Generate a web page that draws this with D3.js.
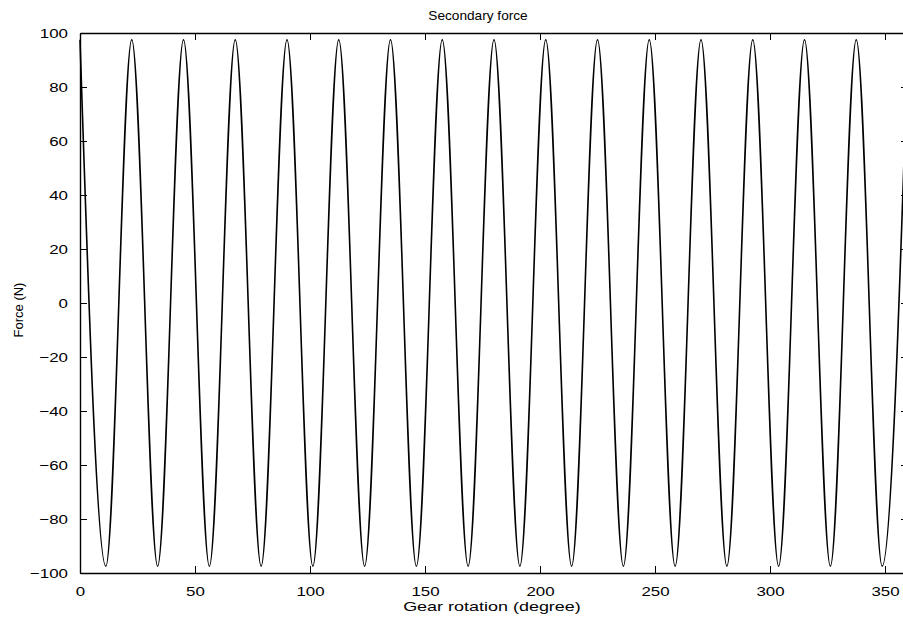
<!DOCTYPE html>
<html>
<head>
<meta charset="utf-8">
<script src="https://cdn.jsdelivr.net/npm/d3@7"></script>
<style>
  body { margin: 0; background: #fff; }
  svg { display: block; font-family: "Liberation Sans", Arial, sans-serif; }
</style>
</head>
<body>
<svg id="chart" width="903" height="619"></svg>
<script>
// peaks and troughs of the force curve (degrees, N)
const extremaAngle = [0, 11.25, 22.5, 33.75, 45, 56.25, 67.5, 78.75, 90, 101.25, 112.5, 123.75,
  135, 146.25, 157.5, 168.75, 180, 191.25, 202.5, 213.75, 225, 236.25, 247.5, 258.75,
  270, 281.25, 292.5, 303.75, 315, 326.25, 337.5, 348.75, 360]
const extremaForce = [97.5, -97.5, 97.5, -97.5, 97.5, -97.5, 97.5, -97.5, 97.5, -97.5, 97.5, -97.5,
  97.5, -97.5, 97.5, -97.5, 97.5, -97.5, 97.5, -97.5, 97.5, -97.5, 97.5, -97.5,
  97.5, -97.5, 97.5, -97.5, 97.5, -97.5, 97.5, -97.5, 97.5]

const xTicks = [0, 50, 100, 150, 200, 250, 300, 350]
const yTicks = [-100, -80, -60, -40, -20, 0, 20, 40, 60, 80, 100]

const data = extremaAngle.map((a, i) => ({ angle: a, force: extremaForce[i] }))

var margin = {top: 33, left: 80},
  width = 828,
  height = 540

var svg = d3.select("#chart")
var g = svg.append("g")
  .attr("transform", "translate(" + margin.left + "," + margin.top + ")")

var x = d3.scaleLinear().domain([0, 360]).range([0, width])
var y = d3.scaleLinear().domain([-100, 100]).range([height, 0])

// scanned text is wider than the plain font, stretch it a bit
function stretch(sel, k) {
  sel.each(function() {
    var w = this.getComputedTextLength()
    d3.select(this).attr("textLength", w * k).attr("lengthAdjust", "spacingAndGlyphs")
  })
}

// curve
var line = d3.line()
  .x(d => x(d.angle))
  .y(d => y(d.force))
  .curve(d3.curveMonotoneX)

g.append("path")
  .datum(data)
  .attr("fill", "none")
  .attr("stroke", "#000")
  .attr("stroke-width", 1.6)
  .attr("d", line)

// axes, inward ticks on all sides
var xAxis = g.append("g")
  .attr("transform", "translate(0," + height + ")")
  .call(d3.axisBottom(x).tickValues(xTicks).tickSizeInner(-7).tickSizeOuter(0).tickPadding(13))
var yAxis = g.append("g")
  .call(d3.axisLeft(y).tickValues(yTicks).tickSizeInner(-7).tickSizeOuter(0).tickPadding(12))
g.append("g")
  .call(d3.axisTop(x).tickValues(xTicks).tickSizeInner(-7).tickSizeOuter(0).tickFormat(""))
g.append("g")
  .attr("transform", "translate(" + width + ",0)")
  .call(d3.axisRight(y).tickValues(yTicks).tickSizeInner(-7).tickSizeOuter(0).tickFormat(""))

g.selectAll(".domain").attr("stroke", "#000").attr("stroke-width", 1.4)
g.selectAll(".tick line").attr("stroke", "#000").attr("stroke-width", 1)

xAxis.selectAll("text").attr("font-size", 13.5).attr("fill", "#000")
  .attr("font-family", "Liberation Sans, Arial, sans-serif").call(stretch, 1.25)
yAxis.selectAll("text").attr("font-size", 13.5).attr("fill", "#000")
  .attr("font-family", "Liberation Sans, Arial, sans-serif").call(stretch, 1.25)

// labels
svg.append("text")
  .attr("x", 478).attr("y", 20)
  .attr("text-anchor", "middle")
  .attr("font-size", 13)
  .text("Secondary force")
  .call(stretch, 1.05)

svg.append("text")
  .attr("x", 492).attr("y", 611)
  .attr("text-anchor", "middle")
  .attr("font-size", 13.5)
  .text("Gear rotation (degree)")
  .call(stretch, 1.33)

svg.append("text")
  .attr("transform", "translate(23,310) rotate(-90)")
  .attr("text-anchor", "middle")
  .attr("font-size", 13)
  .text("Force (N)")
</script>
</body>
</html>
